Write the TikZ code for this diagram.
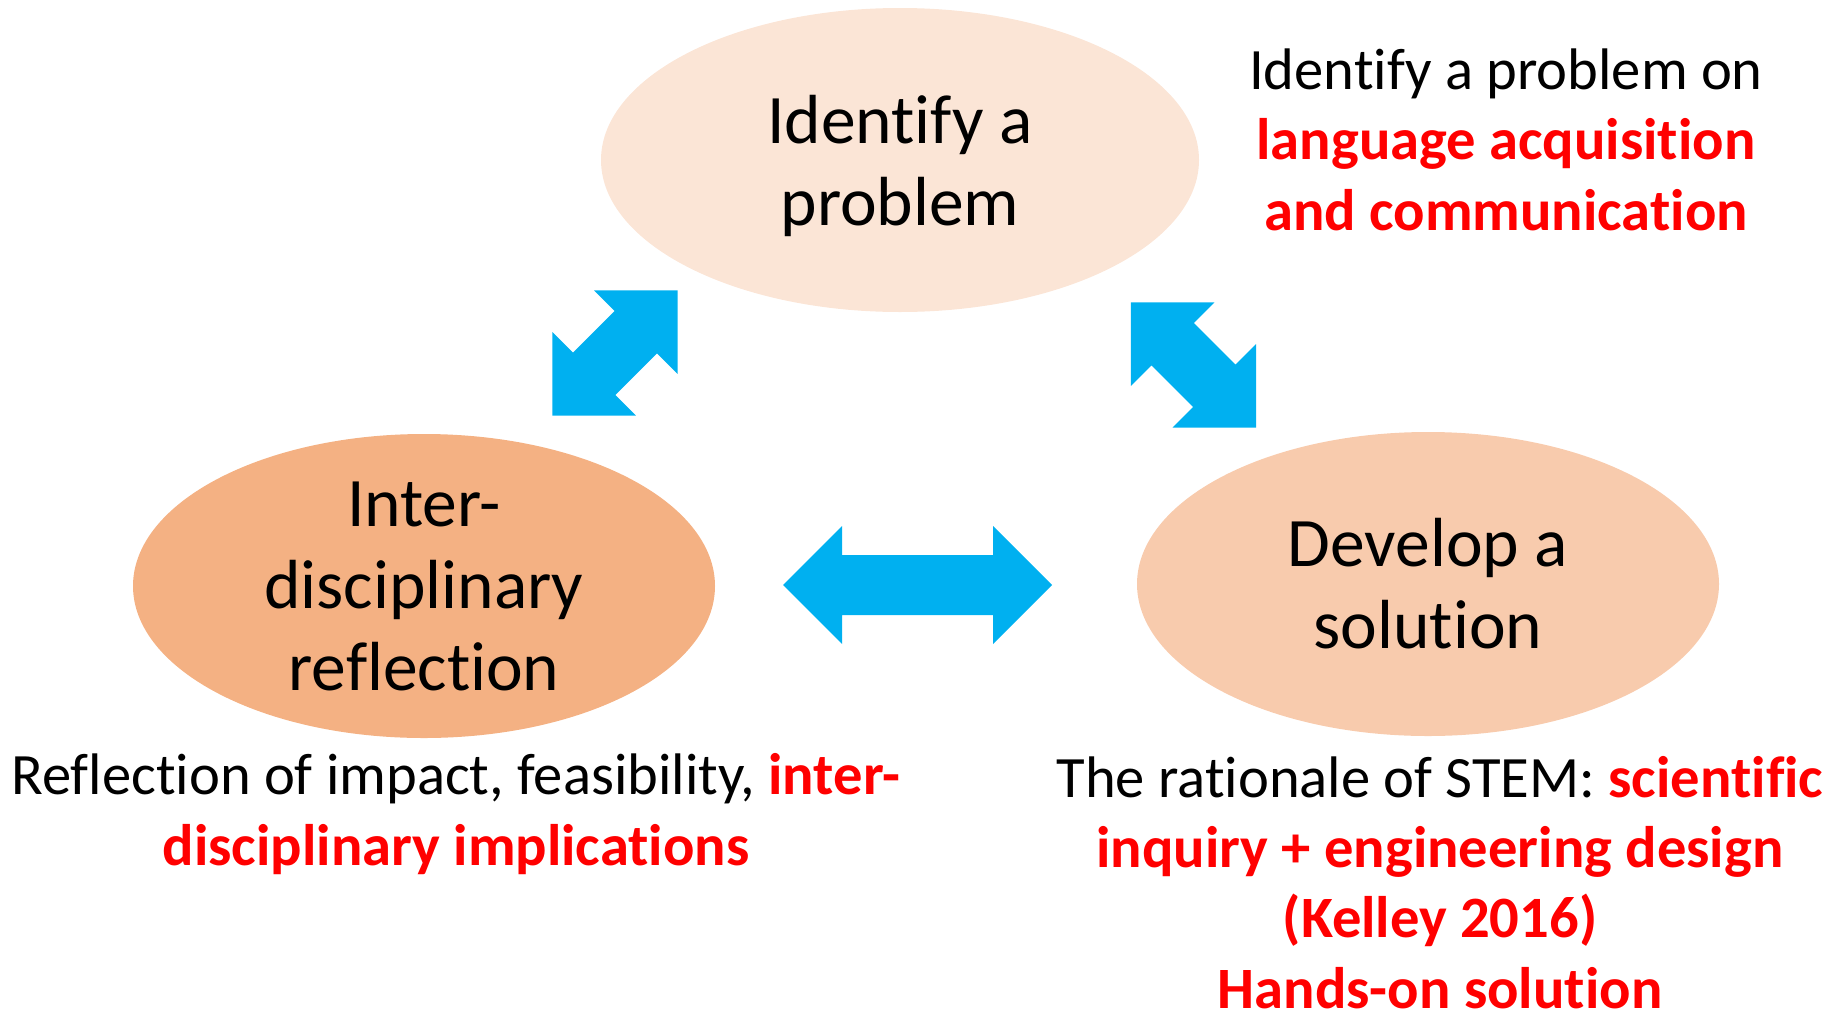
\documentclass[tikz,border=0pt]{standalone}
\usepackage{fontspec}
\setmainfont{Carlito}[Ligatures=NoCommon]
\usetikzlibrary{shapes.geometric}

\definecolor{peachpale}{HTML}{FBE5D6}
\definecolor{peachmid}{HTML}{F8CBAD}
\definecolor{peachdeep}{HTML}{F4B183}
\definecolor{arrowblue}{HTML}{00B0F0}
\definecolor{hotred}{HTML}{FF0000}

\newcommand{\hl}[1]{\textcolor{hotred}{\textbf{#1}}}
\newcommand{\nodepth}[1]{\raisebox{0pt}[\height][0pt]{#1}}

\tikzset{
    stage/.style={ellipse, inner sep=0pt, minimum width=582pt, minimum height=304pt,
        align=center, font=\fontsize{69.5}{82}\selectfont},
    note/.style={align=center, anchor=base, font=\fontsize{58.6}{70.3}\selectfont},
    pics/fatarrow/.style={code={
        \fill[arrowblue] (-#1,0) -- (-#1+59,-59) -- (-#1+59,-30) -- (#1-59,-30)
            -- (#1-59,-59) -- (#1,0) -- (#1-59,59) -- (#1-59,30)
            -- (-#1+59,30) -- (-#1+59,59) -- cycle;}},
}

\begin{document}
\begin{tikzpicture}[x=1pt,y=-1pt]
    \useasboundingbox (0,0) rectangle (1838,1012);

    \node[stage, fill=peachpale, minimum width=598pt] (identify) at (900,160) {Identify a\\\nodepth{problem}};
    \node[stage, fill=peachdeep] (reflect) at (424,586) {Inter-\\disciplinary\\reflection};
    \node[stage, fill=peachmid] (develop) at (1428,584) {Develop a\\solution};

    % block arrows between the stages
    \pic[rotate=45] at (615,353) {fatarrow=88.5};
    \pic[rotate=-45] at (1193.5,365) {fatarrow=88.5};
    \pic at (917.5,585) {fatarrow=134.5};

    \node[note] (identifynote) at (1506,230) {Identify a problem on\\\hl{language acquisition}\\\hl{and communication}};
    \node[note] (reflectnote) at (456,865) {Reflection of impact, feasibility, \hl{inter-}\\\hl{disciplinary implications}};
    \node[note] (developnote) at (1440,1008) {The rationale of STEM: \hl{scientific}\\\hl{inquiry + engineering design}\\\hl{(Kelley 2016)}\\\hl{Hands-on solution}};
\end{tikzpicture}
\end{document}
